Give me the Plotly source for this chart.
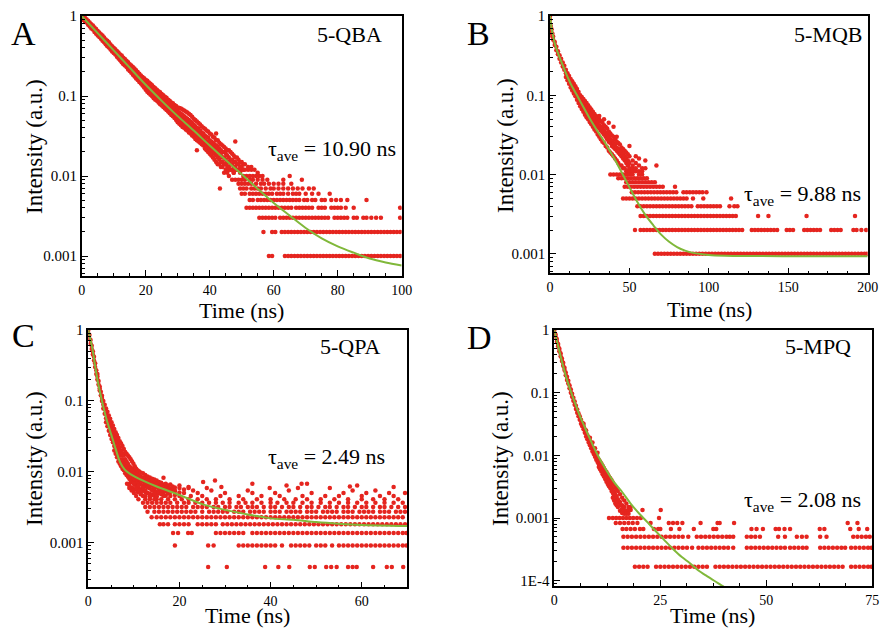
import plotly.graph_objects as go

W, H = 880, 630
RED = "#e5251f"
GREEN = "#80b83a"
SERIF = "Liberation Serif"

# ---------------- Panel A : 5-QBA ----------------
a_band = {
    0: [1.0, 0.96, 0.92], 0.5: [0.98, 0.94, 0.89], 1: [0.95, 0.9, 0.86], 1.5: [0.91, 0.85, 0.83],
    2: [0.87, 0.82, 0.78], 2.5: [0.83, 0.79, 0.74], 3: [0.79, 0.74, 0.7], 3.5: [0.76, 0.71, 0.68],
    4: [0.72, 0.67, 0.63], 4.5: [0.69, 0.65, 0.6], 5: [0.65, 0.61, 0.57], 5.5: [0.62, 0.58, 0.545],
    6: [0.59, 0.55, 0.52], 6.5: [0.57, 0.53, 0.49], 7: [0.54, 0.5, 0.47], 7.5: [0.51, 0.48, 0.445],
    8: [0.49, 0.45, 0.42], 8.5: [0.47, 0.43, 0.405], 9: [0.44, 0.41, 0.38], 9.5: [0.42, 0.395, 0.36],
    10: [0.4, 0.37, 0.345], 10.5: [0.385, 0.35, 0.33], 11: [0.365, 0.335, 0.31], 11.5: [0.35, 0.32, 0.295],
    12: [0.33, 0.305, 0.28], 12.5: [0.32, 0.29, 0.265], 13: [0.3, 0.275, 0.25], 13.5: [0.29, 0.26, 0.24],
    14: [0.275, 0.25, 0.23], 14.5: [0.265, 0.24, 0.215], 15: [0.25, 0.226, 0.205],
    15.5: [0.24, 0.215, 0.195], 16: [0.23, 0.205, 0.185], 16.5: [0.22, 0.195, 0.175],
    17: [0.21, 0.185, 0.165], 17.5: [0.2, 0.178, 0.158], 18: [0.19, 0.168, 0.15],
    18.5: [0.18, 0.16, 0.143], 19: [0.173, 0.152, 0.135], 19.5: [0.167, 0.148, 0.128],
    20: [0.16, 0.145, 0.132, 0.12], 20.5: [0.155, 0.138, 0.126, 0.113],
    21: [0.148, 0.133, 0.121, 0.108], 21.5: [0.142, 0.128, 0.115, 0.104],
    22: [0.136, 0.122, 0.111, 0.099], 22.5: [0.13, 0.117, 0.106, 0.094],
    23: [0.125, 0.112, 0.102, 0.09], 23.5: [0.12, 0.107, 0.098, 0.087],
    24: [0.115, 0.103, 0.094, 0.083], 24.5: [0.111, 0.099, 0.09, 0.079],
    25: [0.106, 0.095, 0.086, 0.076], 25.5: [0.102, 0.091, 0.082, 0.073],
    26: [0.098, 0.087, 0.079, 0.07], 26.5: [0.095, 0.084, 0.075, 0.067],
    27: [0.09, 0.08, 0.072, 0.064], 27.5: [0.087, 0.077, 0.069, 0.061],
    28: [0.083, 0.074, 0.066, 0.058], 28.5: [0.081, 0.071, 0.063, 0.056],
    29: [0.077, 0.068, 0.061, 0.053], 29.5: [0.075, 0.066, 0.059, 0.05],
    30: [0.072, 0.064, 0.058, 0.052, 0.047], 30.5: [0.071, 0.062, 0.056, 0.05, 0.045],
    31: [0.07, 0.06, 0.054, 0.048, 0.043], 31.5: [0.068, 0.058, 0.052, 0.046, 0.041],
    32: [0.066, 0.056, 0.05, 0.045, 0.04], 32.5: [0.064, 0.054, 0.048, 0.043, 0.038],
    33: [0.062, 0.052, 0.046, 0.041, 0.037], 33.5: [0.06, 0.05, 0.044, 0.039, 0.035],
    34: [0.058, 0.048, 0.042, 0.038, 0.034], 34.5: [0.055, 0.046, 0.041, 0.036, 0.032],
    35: [0.052, 0.044, 0.039, 0.035, 0.031], 35.5: [0.05, 0.042, 0.037, 0.033, 0.029],
    36: [0.048, 0.04, 0.036, 0.032, 0.028, 0.021], 36.5: [0.046, 0.039, 0.034, 0.03, 0.027],
    37: [0.044, 0.037, 0.033, 0.029, 0.026], 37.5: [0.042, 0.035, 0.031, 0.028, 0.025],
    38: [0.04, 0.034, 0.03, 0.027, 0.024], 38.5: [0.039, 0.032, 0.028, 0.025, 0.022],
    39: [0.037, 0.031, 0.027, 0.024, 0.021], 39.5: [0.036, 0.03, 0.026, 0.023, 0.02],
    40: [0.034, 0.028, 0.025, 0.022, 0.019], 40.5: [0.033, 0.027, 0.024, 0.021, 0.018],
    41: [0.031, 0.026, 0.023, 0.02, 0.017], 41.5: [0.03, 0.025, 0.022, 0.019, 0.016],
    42: [0.034, 0.028, 0.024, 0.021, 0.018, 0.015], 42.5: [0.028, 0.023, 0.02, 0.017, 0.014],
    43: [0.026, 0.022, 0.019, 0.016, 0.014], 43.5: [0.025, 0.021, 0.018, 0.015, 0.013],
    44: [0.024, 0.02, 0.017, 0.015, 0.013], 44.5: [0.023, 0.02, 0.017, 0.014, 0.011],
    45: [0.022, 0.019, 0.016, 0.014, 0.012], 45.5: [0.021, 0.018, 0.015, 0.013, 0.011],
    46: [0.021, 0.017, 0.015, 0.013, 0.012], 46.5: [0.02, 0.016, 0.014, 0.012],
    47: [0.019, 0.016, 0.014, 0.012], 47.5: [0.018, 0.015, 0.013, 0.011],
    48: [0.027, 0.017, 0.015, 0.013, 0.012], 48.5: [0.017, 0.014, 0.012],
    49: [0.016, 0.014, 0.012], 49.5: [0.015, 0.013], 50: [0.015, 0.013, 0.012],
    50.5: [0.014, 0.012], 51: [0.014, 0.012], 52: [0.013, 0.012], 53: [0.013, 0.012], 54: [0.012],
}
a_rows = {
    0.001: [58.5, 59.5, 63.5, 64.5, 65.5, 66.5, 67.5, 68.5, 69.5, 70.5, 71.5, 72.5, 73.5, 74.5, 75.5,
            76.5, 77.5, 78.5, 79.5, 80.5, 81.5, 82.5, 83.5, 84.5, 85.5, 86.5, 87.5, 88.5, 89.5, 90.5,
            91.5, 92.5, 93.5, 94.5, 95.5, 96.5, 97.5, 98.5, 99.5],
    0.002: [56.8, 59.5, 60.5, 62.5, 63.5, 64.5, 65.5, 66.5, 67.5, 68.5, 69.5, 70.5, 71.5, 72.5, 73.5,
            74.5, 75.5, 76.5, 77.5, 78.5, 79.5, 80.5, 81.5, 82.5, 83.5, 84.5, 85.5, 86.5, 87.5, 88.5,
            89.5, 90.5, 91.5, 92.5, 93.5, 94.5, 95.5, 96.5, 97.5, 98.5, 99.5],
    0.003: [55.5, 56.5, 57.5, 58.5, 59.5, 60.5, 62, 63, 64, 65, 66, 67, 68, 69, 70, 71, 72, 73, 74,
            75, 76, 77, 79, 80, 81, 82, 83, 85, 86, 88, 89, 90.5, 92, 93.5, 99.5],
    0.004: [51.5, 52.5, 53.5, 54.5, 55.5, 56.5, 57.5, 58.5, 59.5, 60.5, 61.5, 62.5, 63.5, 64.5, 65.5,
            67, 68, 69, 70, 71, 72, 74, 75, 76, 78, 79, 80, 81, 82.5, 85, 99.5],
    0.005: [52.5, 53.5, 55, 56, 57, 58, 59, 60, 61, 62, 63, 64, 65, 66, 67, 68, 69.5, 70.5, 72, 73,
            75, 76, 78, 79.5, 81, 83, 89],
    0.006: [50, 51, 52.5, 53.5, 54.5, 55.5, 56.5, 57.5, 58.5, 59.5, 61, 62, 63, 64.5, 66, 67, 68, 70,
            72, 74, 77.5],
    0.007: [43.2, 49.5, 50.5, 51.5, 53, 54, 55, 56, 57.5, 59, 60, 61.5, 63, 64.5, 66, 67.5, 69, 71, 72.5],
    0.008: [49, 50, 51, 52, 53, 54.5, 56, 57, 58.5, 60, 61.5, 63, 65.5],
    0.009: [47, 48, 49, 50, 51, 52.5, 53.5, 55, 56.5, 58, 63, 68.8],
    0.010: [46, 50.5, 51.5, 52.5, 53.5, 54.5, 55.5, 56.5, 65],
    0.011: [47.5, 49.5, 55],
}
a_fit_t = [0, 5, 10, 15, 20, 25, 30, 35, 40, 45, 50, 55, 60, 65, 70, 75, 80, 85, 90, 95, 100]
a_fit_i = [1.0, 0.61, 0.372, 0.226, 0.138, 0.087, 0.056, 0.037, 0.024, 0.0158, 0.0105, 0.0069,
           0.0046, 0.0032, 0.00224, 0.00166, 0.00132, 0.0011, 0.00093, 0.00083, 0.00076]

# ---------------- Panel B : 5-MQB ----------------
b_band = {
    0: [1.0, 0.9, 0.8], 0.5: [0.75, 0.65], 1: [0.68, 0.6], 1.5: [0.6, 0.55], 2: [0.55, 0.5],
    3: [0.47, 0.43], 4: [0.41, 0.37], 5: [0.36, 0.33], 6: [0.32, 0.29], 7: [0.29, 0.26],
    8: [0.26, 0.23], 9: [0.235, 0.21], 10: [0.21, 0.19, 0.17], 11: [0.19, 0.17, 0.155],
    12: [0.175, 0.155, 0.14], 13: [0.16, 0.14, 0.125], 14: [0.15, 0.13, 0.115],
    15: [0.14, 0.12, 0.105], 16: [0.13, 0.11, 0.097], 17: [0.12, 0.1, 0.088, 0.11],
    18: [0.11, 0.092, 0.08, 0.1], 19: [0.1, 0.085, 0.073, 0.094], 20: [0.095, 0.078, 0.067, 0.086],
    21: [0.09, 0.072, 0.062, 0.08], 22: [0.085, 0.068, 0.057, 0.075], 23: [0.08, 0.063, 0.053, 0.07],
    24: [0.075, 0.058, 0.05, 0.066], 25: [0.07, 0.055, 0.046, 0.062], 26: [0.066, 0.051, 0.043, 0.058],
    27: [0.062, 0.048, 0.04, 0.054], 28: [0.058, 0.045, 0.037, 0.05], 29: [0.055, 0.042, 0.035, 0.047],
    30: [0.052, 0.04, 0.032, 0.045], 31: [0.05, 0.038, 0.03, 0.042, 0.055], 32: [0.047, 0.036, 0.028, 0.04],
    33: [0.045, 0.034, 0.026, 0.038], 34: [0.042, 0.032, 0.025, 0.036, 0.05], 35: [0.04, 0.03, 0.023, 0.034],
    36: [0.038, 0.028, 0.022, 0.032], 37: [0.035, 0.026, 0.02, 0.03, 0.045], 38: [0.033, 0.025, 0.019, 0.028],
    39: [0.031, 0.023, 0.018, 0.027], 40: [0.03, 0.022, 0.017, 0.025, 0.04], 41: [0.028, 0.021, 0.016, 0.024],
    42: [0.026, 0.02, 0.015, 0.022, 0.03], 43: [0.025, 0.019, 0.014, 0.021], 44: [0.024, 0.018, 0.013, 0.02],
    45: [0.022, 0.017, 0.013, 0.019], 46: [0.021, 0.016, 0.012, 0.018], 47: [0.02, 0.015, 0.012, 0.017],
    48: [0.019, 0.014, 0.011, 0.016], 49: [0.018, 0.013, 0.011, 0.015], 50: [0.017, 0.012, 0.011, 0.014, 0.023],
    52: [0.015, 0.012, 0.011, 0.013], 54: [0.014, 0.012, 0.011, 0.017], 56: [0.013, 0.011, 0.016],
    58: [0.012, 0.011], 60: [0.015, 0.012], 67: [0.013],
}
b_rows = {
    0.001: [66, 68, 70, 72, 74, 76, 78, 80, 82, 84, 86, 88, 90, 92, 94, 96, 98, 100, 102, 104, 106, 108,
            110, 112, 114, 116, 118, 120, 122, 124, 126, 128, 130, 132, 134, 136, 138, 140, 142, 144, 146,
            148, 150, 152, 154, 156, 158, 160, 162, 164, 166, 168, 170, 172, 174, 176, 178, 180, 182, 184,
            186, 188, 190, 192, 194, 196, 198, 199.5],
    0.002: [53.5, 57, 59, 61, 63, 65, 67, 69, 71, 73, 75, 77, 79, 81, 83, 85, 87, 89, 91, 93, 95, 97, 99,
            101, 103, 105, 107, 109, 111, 113, 115, 117, 119, 121, 127, 129, 131, 133, 135, 137, 139, 141,
            143, 149, 151, 153, 160, 162, 164, 166, 168, 170, 177, 179, 181, 183, 191, 193, 196, 199],
    0.003: [57, 59, 61, 63, 65, 67, 69, 71, 73, 75, 77, 79, 81, 83, 85, 87, 89, 91, 93, 95, 97, 99, 101,
            103, 105, 107, 109, 111, 113, 115, 117, 131, 137.5, 161.5, 192],
    0.004: [55, 57, 59, 61, 63, 65, 67, 69, 71, 73, 75, 77, 79, 81, 83, 85, 87, 89, 93, 95, 97, 99, 101,
            103, 105, 107, 113, 116, 118],
    0.005: [46, 48, 50, 52, 54, 56, 58, 60, 62, 64, 66, 68, 70, 72, 74, 76, 78, 80, 82, 84, 86, 90, 96.5, 114],
    0.006: [51.5, 53.5, 55.5, 57.5, 59.5, 61.5, 63.5, 65.5, 67.5, 69.5, 71.5, 73.5, 75.5, 77.5, 79.5,
            84, 86, 88, 90, 92, 94, 96, 98.5],
    0.007: [47, 49, 51, 53, 55, 57, 59, 61, 63, 65, 67, 69, 71, 78.7],
    0.008: [48, 50, 52, 54, 56, 58, 60, 62, 64, 66],
    0.009: [43, 45, 47, 49, 51, 53, 55, 57, 59, 61],
    0.010: [38, 40, 42, 44, 46, 48, 50, 52, 56, 58],
}
b_fit_t = [0, 1, 2, 3, 5, 7, 10, 13, 17, 21, 25, 30, 35, 40, 45, 50, 55, 60, 65, 70, 75, 80, 85, 90,
           100, 110, 130, 160, 200]
b_fit_i = [1.0, 0.7, 0.55, 0.45, 0.34, 0.27, 0.19, 0.14, 0.1, 0.071, 0.051, 0.035, 0.0245, 0.0165,
           0.0108, 0.0069, 0.0045, 0.0031, 0.0023, 0.00175, 0.00142, 0.00122, 0.0011, 0.00103,
           0.00097, 0.00095, 0.00094, 0.00093, 0.00093]

# ---------------- Panel C : 5-QPA ----------------
c_band = {
    0: [1.0, 0.9], 0.25: [0.85, 0.75], 0.5: [0.72, 0.64], 0.75: [0.6, 0.54], 1.0: [0.5, 0.45],
    1.25: [0.42, 0.37], 1.5: [0.34, 0.3], 1.75: [0.27, 0.24], 2.0: [0.22, 0.2, 0.24],
    2.25: [0.19, 0.17], 2.5: [0.16, 0.14, 0.15], 2.75: [0.135, 0.12], 3.0: [0.118, 0.1, 0.11],
    3.3: [0.1, 0.088, 0.078], 3.6: [0.088, 0.076, 0.066], 3.9: [0.078, 0.066, 0.057, 0.05],
    4.2: [0.07, 0.058, 0.05, 0.044], 4.5: [0.062, 0.051, 0.044, 0.038],
    4.8: [0.056, 0.046, 0.039, 0.033], 5.1: [0.05, 0.041, 0.034, 0.029],
    5.4: [0.045, 0.037, 0.03, 0.026], 5.7: [0.04, 0.033, 0.027, 0.023, 0.02],
    6.0: [0.036, 0.03, 0.025, 0.021, 0.018], 6.3: [0.033, 0.027, 0.022, 0.019, 0.016],
    6.6: [0.03, 0.024, 0.02, 0.017, 0.014], 6.9: [0.027, 0.022, 0.018, 0.015, 0.013],
    7.2: [0.025, 0.02, 0.017, 0.014, 0.012], 7.5: [0.023, 0.018, 0.015, 0.013, 0.011],
    7.8: [0.021, 0.017, 0.014, 0.012, 0.0105], 8.1: [0.019, 0.015, 0.013, 0.011, 0.0095],
    8.4: [0.018, 0.014, 0.012, 0.0105, 0.009], 8.7: [0.017, 0.013, 0.011, 0.0098, 0.0085],
    9.0: [0.016, 0.012, 0.0105, 0.0092, 0.008, 0.0068], 9.3: [0.015, 0.0115, 0.01, 0.0088, 0.0076],
    9.6: [0.014, 0.011, 0.0096, 0.0084, 0.0072, 0.006], 9.9: [0.013, 0.0105, 0.0092, 0.008, 0.007],
    10.2: [0.012, 0.01, 0.0088, 0.0077, 0.0066, 0.0056], 10.5: [0.011, 0.0096, 0.0084, 0.0074, 0.0064],
    10.8: [0.0105, 0.0092, 0.008, 0.0071, 0.0061, 0.0052], 11.1: [0.0102, 0.0089, 0.0078, 0.0068, 0.0058],
    11.5: [0.0098, 0.0086, 0.0075, 0.0066, 0.0056, 0.0048], 12: [0.0095, 0.0083, 0.0073, 0.0064, 0.0054],
    12.5: [0.009, 0.008, 0.0071, 0.0062, 0.0052, 0.0045], 13: [0.0086, 0.0077, 0.0068, 0.006, 0.005],
    13.5: [0.0083, 0.0074, 0.0066, 0.0058, 0.0049, 0.0043], 14: [0.008, 0.0071, 0.0064, 0.0056, 0.0047],
    14.5: [0.0078, 0.0069, 0.0062, 0.0054, 0.0046], 15: [0.0075, 0.0067, 0.006, 0.0052, 0.0045, 0.0041],
    15.5: [0.0072, 0.0064, 0.0057, 0.005], 16: [0.007, 0.0062, 0.0055, 0.0048],
    16.5: [0.0082, 0.0066, 0.0058, 0.0051], 17: [0.0068, 0.006, 0.0053, 0.0046],
    17.5: [0.0064, 0.0057, 0.005], 18: [0.0066, 0.0058, 0.0052], 18.5: [0.0062, 0.0055],
    19: [0.006, 0.0053, 0.0047], 20: [0.0059, 0.0051], 21: [0.0056], 22: [0.0061],
    25.2: [0.0072], 27.8: [0.0075], 29.2: [0.0061], 46.8: [0.0068], 57.4: [0.0062], 67: [0.0061],
}
c_rows = {
    0.000455: [26.3, 30.4, 38.8, 41.7, 44.1, 48.6, 49.7, 52.2, 53.3, 54.5, 57, 58, 58.9, 62.5, 65.5,
               66.6, 69.1],
    0.00091: [19, 26.3, 27.5, 33, 34, 35, 36, 37, 38, 39, 40, 41, 42.5, 44.5, 45.5, 46.5, 47.5, 48.5,
              50, 51, 52, 53.5, 55, 56, 57, 58, 59, 60, 61, 62, 63, 64, 65, 66, 67, 68, 69, 69.8],
    0.001365: [18.6, 19.7, 21.9, 22.7, 28, 29, 30, 31, 32, 33, 34, 36, 37, 38, 39, 40, 41, 42, 43, 44,
               45, 46, 47, 48, 49, 50, 51, 52, 53, 54, 55, 56, 57, 58, 59, 60, 61, 62, 63, 64, 65, 66,
               67, 68, 69, 69.8],
    0.00182: [15.7, 16.5, 17.5, 19, 20, 21, 22, 24, 25, 26, 27, 28, 29.5, 30.5, 31.5, 32.5, 33.5, 34.5,
              35.5, 36.5, 37.5, 38.5, 39.5, 40.5, 41.5, 42.5, 43.5, 44.5, 45.5, 46.5, 47.5, 48.5, 49.5,
              50.5, 51.5, 52.5, 53.5, 54.5, 55.5, 56.5, 57.5, 58.5, 59.5, 60.5, 61.5, 62.5, 63.5, 64.5,
              65.5, 66.5, 67.5, 68.5, 69.5],
    0.002275: [13.9, 15, 16, 17, 18, 19, 20, 21, 22, 23, 24, 25, 26, 27, 28, 29, 30, 31, 32, 33, 34,
               35, 36, 37, 38, 39, 40, 41, 42, 43, 44, 45, 46, 47, 48, 49, 50, 51, 52, 53, 54, 55, 56,
               57, 58, 59, 60, 61, 62, 63, 64, 65, 66, 67, 68, 69],
    0.00273: [13, 14.5, 15.5, 16.5, 17.5, 18.5, 19.5, 20.5, 21.5, 22.5, 23.5, 25, 26.5, 27.5, 28.5,
              29.5, 30.5, 32, 33, 34, 35.5, 36.5, 37.5, 38.5, 40, 41, 42, 43.5, 44.5, 45.5, 46.5, 48,
              49, 50, 51.5, 52.5, 53.5, 54.5, 56, 57, 58, 59.5, 60.5, 61.5, 62.5, 64, 65, 66, 67.5,
              68.5, 69.5],
    0.003185: [12.5, 13.5, 14.5, 15.5, 16.5, 17.5, 18.5, 19.5, 20.5, 21.5, 23, 24, 25, 26, 27.5, 28.5,
               30, 31, 32.5, 33.5, 35, 36, 37, 38.5, 40, 41, 42.5, 44, 45, 46.5, 48, 49, 50.5, 52, 53,
               54.5, 56, 57, 58.5, 60, 61, 62.5, 64, 65, 66.5, 68, 69.5],
    0.00364: [12, 13, 14, 15, 16, 17, 18, 19.5, 21, 22, 23.5, 25, 26.5, 28, 29.5, 31, 33, 34.5, 36, 38,
              40, 41.5, 43.5, 45, 47, 49, 51, 53, 55, 57, 59, 61, 63, 65, 67, 69],
    0.0041: [11, 12.5, 13.5, 14.5, 16, 17.5, 19, 20.5, 22, 24, 26, 28, 31, 34, 37, 40, 43, 45.5, 48, 51,
             54, 57, 60, 62.5, 65, 68],
    0.00455: [10.5, 12, 13.5, 15, 16.5, 18, 20, 22.5, 25, 29, 33, 38, 42, 47, 52, 55, 60, 64, 67],
    0.005: [10, 11.5, 13, 14.5, 16, 17.5, 21, 24, 30, 36, 41, 49, 56, 61, 66, 69.5],
    0.00546: [9.5, 11, 12.5, 14, 16, 19, 23, 27, 35, 44, 58, 63],
    0.0059: [9, 10.5, 12, 14.5, 17, 22, 26, 39.8, 46, 53],
    0.0064: [9, 11, 13.5, 16, 20, 43.5, 59],
    0.0068: [8.5, 10, 12.5, 15, 36, 48],
}
c_fit_t = [0, 0.5, 1, 1.5, 2, 3, 4, 5, 6, 7, 8, 9, 10, 12, 15, 20, 25, 30, 35, 40, 45, 50, 55, 60, 70]
c_fit_i = [1.0, 0.72, 0.5, 0.31, 0.2, 0.1, 0.055, 0.034, 0.021, 0.0135, 0.0107, 0.0095, 0.0087,
           0.0075, 0.0062, 0.0047, 0.0035, 0.0029, 0.0025, 0.0022, 0.0021, 0.00195, 0.00185,
           0.00178, 0.00172]

# ---------------- Panel D : 5-MPQ ----------------
d_band = {
    0: [1.0, 0.9], 0.3: [0.85, 0.78], 0.6: [0.72, 0.65], 0.9: [0.6, 0.55], 1.2: [0.5, 0.46],
    1.5: [0.42, 0.38], 1.8: [0.35, 0.32], 2.1: [0.3, 0.27], 2.4: [0.25, 0.23], 2.7: [0.21, 0.19],
    3.0: [0.18, 0.16], 3.3: [0.155, 0.14], 3.6: [0.13, 0.118], 3.9: [0.112, 0.1], 4.2: [0.096, 0.086],
    4.5: [0.083, 0.074], 4.8: [0.072, 0.064], 5.1: [0.062, 0.055], 5.4: [0.054, 0.048],
    5.7: [0.047, 0.042], 6.0: [0.042, 0.037], 6.3: [0.037, 0.032], 6.6: [0.033, 0.029],
    6.9: [0.029, 0.026, 0.032], 7.2: [0.026, 0.023], 7.5: [0.023, 0.02, 0.025], 7.8: [0.021, 0.018],
    8.1: [0.019, 0.016], 8.4: [0.017, 0.0145, 0.019], 8.7: [0.015, 0.013], 9.0: [0.0135, 0.0115, 0.016],
    9.3: [0.012, 0.0105], 9.6: [0.011, 0.0095, 0.013], 9.9: [0.01, 0.0085], 10.2: [0.009, 0.0078, 0.011],
    10.5: [0.0085, 0.0072, 0.0065], 10.8: [0.008, 0.0066, 0.006], 11.1: [0.0074, 0.006, 0.0055],
    11.4: [0.0068, 0.0056, 0.005], 11.7: [0.0063, 0.0052, 0.0046], 12.0: [0.0058, 0.0048, 0.0042],
    12.3: [0.0054, 0.0044, 0.0038], 12.6: [0.005, 0.004, 0.0035], 12.9: [0.0046, 0.0037, 0.0032],
    13.2: [0.0043, 0.0034, 0.003], 13.5: [0.004, 0.0031, 0.0027], 13.8: [0.0037, 0.0028, 0.0025, 0.0021],
    14.1: [0.0034, 0.0026, 0.0023, 0.0019], 14.4: [0.0031, 0.0024, 0.0021, 0.0017],
    14.7: [0.0029, 0.0022, 0.0019, 0.0016], 15.0: [0.0027, 0.002, 0.0018, 0.0015],
    15.5: [0.0024, 0.0018, 0.0016, 0.0013], 16.0: [0.0021, 0.0016, 0.0014, 0.0012],
    16.5: [0.0019, 0.0015, 0.0013, 0.00117], 17.0: [0.0017, 0.0013, 0.00117],
    17.5: [0.0015, 0.00134, 0.00117], 18: [0.0015, 0.00134],
}
d_rows = {
    0.000167: [19, 20, 21, 22, 24, 25, 26, 27, 28, 29, 30, 31, 32, 33, 34, 35, 36, 38, 39, 40, 41, 42,
               43, 44, 45, 46, 47, 48, 49, 50, 51, 52, 53, 54, 55, 56, 57, 58, 59, 60, 61, 62, 63, 64,
               65, 66, 67, 68, 70, 71, 72, 73, 74, 74.8],
    0.000334: [16.3, 17.3, 18.3, 19.3, 20.3, 21.3, 22.3, 23.3, 24.3, 25.3, 26.3, 27.3, 28.3, 29.3, 30.3,
               31.3, 32.5, 34, 35, 36, 37, 38, 39, 40, 41, 42.2, 45.4, 46.4, 47.4, 48.4, 49.4, 50.4,
               51.4, 52.4, 53.4, 54.4, 55.6, 56.6, 57.6, 58.6, 59.5, 62.7, 63.7, 64.7, 65.7, 66.7, 67.7,
               68.6, 70, 71, 72, 73, 74, 74.8],
    0.0005: [16.3, 17.3, 18.3, 19.3, 20.3, 21.3, 22.3, 23.3, 24.3, 25.3, 26.3, 27.3, 28.3, 29.3, 30.3,
             31.6, 33.6, 34.6, 35.6, 36.6, 37.6, 38.6, 39.6, 40.6, 41.4, 42.2, 45.4, 46.4, 47.4, 48.5,
             52.8, 54.4, 57.2, 58.4, 59.5, 62.7, 64.2, 70.5, 71.5, 72.5, 73.5, 74.4],
    0.000668: [16.1, 17, 18, 19, 20.2, 21, 23.5, 24.5, 25, 27.5, 29.5, 32.9, 37.5, 38.2, 46.5, 47.7,
               49.2, 52.2, 53, 54.3, 55.6, 62.6, 63.7, 69.8, 71.8, 73.8],
    0.000835: [14.5, 15.5, 16.5, 17.5, 18.5, 19.6, 22.7, 27, 28, 29, 30.2, 34.5, 38.5, 39, 42.4, 69.2, 71.5],
    0.001: [12.9, 13.8, 14.6, 15.4, 16.2, 17, 17.8, 18.6, 19.5, 20.4, 24.7],
    0.00134: [20.8, 25.1],
}
d_fit_t = [0, 0.5, 1, 1.5, 2, 3, 4, 5, 6, 7, 8, 9, 10, 12, 14, 16, 18, 20, 22, 24, 26, 28, 30, 32, 34,
           36, 38, 40, 42]
d_fit_i = [1.0, 0.72, 0.52, 0.38, 0.28, 0.16, 0.1, 0.065, 0.043, 0.03, 0.021, 0.015, 0.0108, 0.0062,
           0.0038, 0.0026, 0.0017, 0.00118, 0.00085, 0.00061, 0.00044, 0.00032, 0.00024, 0.00019,
           0.000145, 0.000118, 0.000097, 0.00008, 0.000068]

# ---------------- labels ----------------
panel_letters = ["A", "B", "C", "D"]
compounds = ["5-QBA", "5-MQB", "5-QPA", "5-MPQ"]
tau_values = ["10.90", "9.88", "2.49", "2.08"]
x_title = "Time (ns)"
y_title = "Intensity (a.u.)"
x_ticks = [[0, 20, 40, 60, 80, 100], [0, 50, 100, 150, 200], [0, 20, 40, 60], [0, 25, 50, 75]]
y_ticks = [[1, 0.1, 0.01, 0.001], [1, 0.1, 0.01, 0.001], [1, 0.1, 0.01, 0.001],
           [1, 0.1, 0.01, 0.001, 0.0001]]
y_ticktext = [["1", "0.1", "0.01", "0.001"], ["1", "0.1", "0.01", "0.001"],
              ["1", "0.1", "0.01", "0.001"], ["1", "0.1", "0.01", "0.001", "1E-4"]]

data = [(a_band, a_rows, a_fit_t, a_fit_i), (b_band, b_rows, b_fit_t, b_fit_i),
        (c_band, c_rows, c_fit_t, c_fit_i), (d_band, d_rows, d_fit_t, d_fit_i)]

# layout geometry (pixels)
geom = [
    dict(box=(81.7, 16, 401.7, 276), xr=[0, 100], xminor=5, yr=[-3.25, 0]),
    dict(box=(550, 16, 867.7, 273.3), xr=[0, 200], xminor=12.5, yr=[-3.245, 0]),
    dict(box=(88.3, 330, 407.3, 587.3), xr=[0, 70], xminor=5, yr=[-3.63, 0]),
    dict(box=(554.3, 330, 872.3, 586), xr=[0, 75], xminor=6.25, yr=[-4.085, 0]),
]
letter_pos = [(23.5, 33), (478.5, 33), (23.5, 335), (480, 337)]
compound_pos = [(383, 34), (863, 34), (380.5, 346), (852, 346)]
tau_pos = [(267, 150), (743, 195), (267, 458), (743, 501)]
xtitle_pos = [(241, 310), (709, 309), (247.5, 615.5), (712.5, 615.5)]
ytitle_pos = [(34, 147), (505, 146), (34, 459), (500, 459)]

fig = go.Figure()
layout = dict(
    width=W, height=H, margin=dict(l=0, r=0, t=0, b=0),
    paper_bgcolor="white", plot_bgcolor="white", showlegend=False,
    font=dict(family=SERIF, color="black"),
)
annotations = []


def paper_ann(text, px, py, size, xanchor="center", angle=0):
    return dict(text=text, x=px / W, y=1 - py / H, xref="paper", yref="paper",
                xanchor=xanchor, yanchor="middle", showarrow=False, textangle=angle,
                borderpad=0, font=dict(size=size, family=SERIF, color="black"))


for k, ((band, rows, ft, fi), g) in enumerate(zip(data, geom)):
    sfx = "" if k == 0 else str(k + 1)
    xa, ya = "x" + sfx, "y" + sfx
    bx = [t for t, vals in band.items() for _ in vals]
    by = [v for t, vals in band.items() for v in vals]
    rx = [x for lvl, xs in rows.items() for x in xs]
    ry = [lvl for lvl, xs in rows.items() for _ in xs]
    fig.add_trace(go.Scatter(x=bx + rx, y=by + ry, mode="markers", xaxis=xa, yaxis=ya,
                             marker=dict(color=RED, size=4.5, line=dict(width=0))))
    fig.add_trace(go.Scatter(x=ft, y=fi, mode="lines", xaxis=xa, yaxis=ya,
                             line=dict(color=GREEN, width=2, shape="spline", smoothing=0.8)))
    l, t, r, b = g["box"]
    layout["xaxis" + sfx] = dict(
        domain=[l / W, r / W], anchor=ya, range=g["xr"], showgrid=False, zeroline=False,
        showline=True, linecolor="black", linewidth=1.6, mirror=True,
        ticks="inside", ticklen=6, tickwidth=1.3, tickcolor="black",
        tickmode="array", tickvals=x_ticks[k], tickfont=dict(size=14, family=SERIF),
        minor=dict(ticks="inside", ticklen=3, tickwidth=1, tickcolor="black",
                   dtick=g["xminor"], tick0=0, showgrid=False),
        automargin=False,
    )
    layout["yaxis" + sfx] = dict(
        domain=[1 - b / H, 1 - t / H], anchor=xa, type="log", range=g["yr"], showgrid=False,
        zeroline=False, showline=True, linecolor="black", linewidth=1.6, mirror=True,
        ticks="inside", ticklen=6, tickwidth=1.3, tickcolor="black",
        tickmode="array", tickvals=y_ticks[k], ticktext=y_ticktext[k],
        tickfont=dict(size=15, family=SERIF),
        minor=dict(ticks="inside", ticklen=3, tickwidth=1, tickcolor="black", dtick="D1",
                   showgrid=False),
        automargin=False,
    )
    annotations.append(paper_ann(panel_letters[k], *letter_pos[k], 34))
    annotations.append(paper_ann(compounds[k], *compound_pos[k], 22, xanchor="right"))
    annotations.append(paper_ann("τ<sub>ave</sub> = " + tau_values[k] + " ns", *tau_pos[k], 22,
                                 xanchor="left"))
    annotations.append(paper_ann(x_title, *xtitle_pos[k], 22))
    annotations.append(paper_ann(y_title, *ytitle_pos[k], 23, angle=-90))

layout["annotations"] = annotations
fig.update_layout(**layout)
fig.write_html("out.html")
